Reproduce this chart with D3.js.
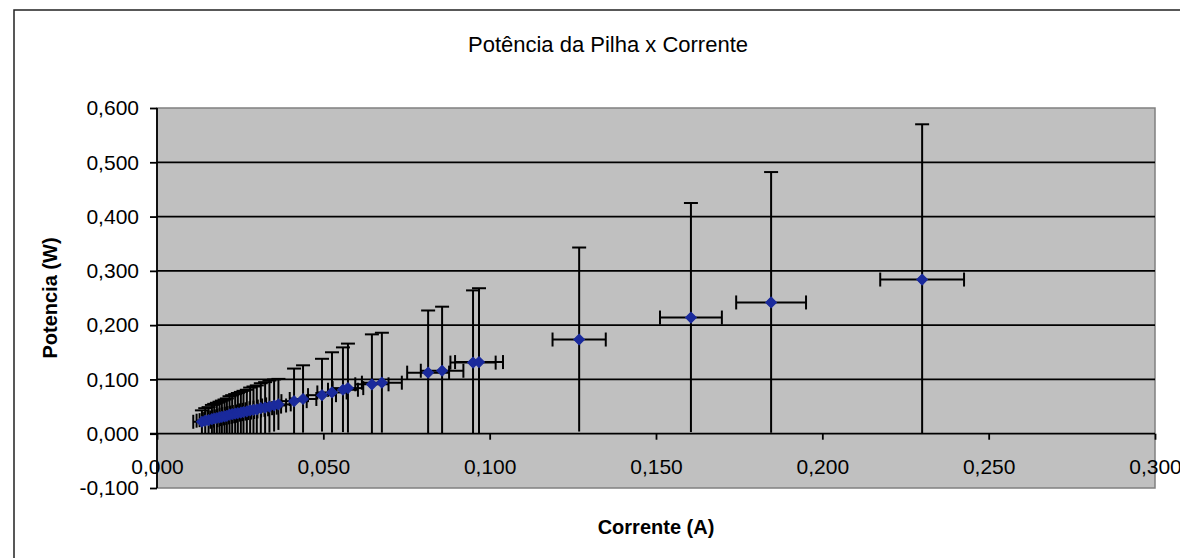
<!DOCTYPE html>
<html>
<head>
<meta charset="utf-8">
<script src="https://cdnjs.cloudflare.com/ajax/libs/d3/7.8.5/d3.min.js"></script>
<style>
  body { margin: 0; background: #fff; }
  text { font-family: "Liberation Sans", Arial, sans-serif; fill: #000; }
</style>
</head>
<body>
<svg></svg>
<script>
  // corrente (A), potencia (W), topo da barra de erro (W), erro da corrente (A)
  let corrente = [0.0135, 0.0145, 0.0155, 0.0165, 0.0172, 0.0180, 0.0188, 0.0195, 0.0203, 0.0210,
                  0.0218, 0.0226, 0.0235, 0.0243, 0.0252, 0.0260, 0.0270, 0.0280, 0.0290, 0.0300,
                  0.0312, 0.0325, 0.0338, 0.0352, 0.0365, 0.0412, 0.0439, 0.0496, 0.0526, 0.0559,
                  0.0574, 0.0646, 0.0676, 0.0815, 0.0857, 0.0950, 0.0968, 0.1269, 0.1605, 0.1846, 0.2300];
  let potencia = [0.022, 0.024, 0.025, 0.027, 0.028, 0.029, 0.030, 0.031, 0.032, 0.033,
                  0.035, 0.036, 0.037, 0.038, 0.039, 0.040, 0.041, 0.043, 0.044, 0.045,
                  0.047, 0.048, 0.050, 0.052, 0.054, 0.060, 0.064, 0.071, 0.076, 0.081,
                  0.084, 0.091, 0.094, 0.1125, 0.116, 0.131, 0.132, 0.1735, 0.214, 0.2418, 0.284];
  let potenciaMax = [0.043, 0.047, 0.049, 0.053, 0.055, 0.057, 0.059, 0.061, 0.063, 0.065,
                     0.069, 0.071, 0.073, 0.075, 0.077, 0.079, 0.081, 0.085, 0.087, 0.089,
                     0.093, 0.095, 0.098, 0.100, 0.101, 0.120, 0.126, 0.138, 0.150, 0.159,
                     0.166, 0.183, 0.186, 0.227, 0.234, 0.264, 0.268, 0.343, 0.425, 0.482, 0.570];
  let erroCorrente = [0.0026, 0.0026, 0.0027, 0.0027, 0.0028, 0.0028, 0.0028, 0.0029, 0.0029, 0.0029,
                      0.0030, 0.0030, 0.0031, 0.0031, 0.0031, 0.0032, 0.0032, 0.0033, 0.0033, 0.0034,
                      0.0034, 0.0035, 0.0035, 0.0036, 0.0037, 0.0038, 0.0040, 0.0042, 0.0044, 0.0045,
                      0.0046, 0.0050, 0.0060, 0.0063, 0.0064, 0.0068, 0.0072, 0.0080, 0.0093, 0.0105, 0.0126];

  let xTicks = [0, 0.05, 0.10, 0.15, 0.20, 0.25, 0.30];
  let yTicks = [-0.1, 0, 0.1, 0.2, 0.3, 0.4, 0.5, 0.6];

  let width = 1180, height = 558;
  let plot = {left: 157, right: 1155, top: 108, bottom: 488};
  let svg = d3.select("svg").attr("width", width).attr("height", height);

  let x = d3.scaleLinear().domain([0, 0.3]).range([plot.left, plot.right]);
  let y = d3.scaleLinear().domain([-0.1, 0.6]).range([plot.bottom, plot.top]);
  let fmt = v => d3.format(".3f")(v).replace(".", ",").replace("\u2212", "-");

  // a parte de baixo da barra de erro termina no eixo (zero)
  let data = corrente.map((c, i) => ({
    x: c, y: potencia[i], hi: potenciaMax[i],
    lo: Math.max(0, potencia[i] - (potenciaMax[i] - potencia[i])), ex: erroCorrente[i]
  }));

  // moldura externa
  svg.append("rect").attr("x", 14).attr("y", 10).attr("width", 1200).attr("height", 600)
    .attr("fill", "none").attr("stroke", "#222").attr("stroke-width", 1.5);

  svg.append("text").attr("x", 608).attr("y", 52).attr("text-anchor", "middle")
    .style("font-size", "22px").text("Potência da Pilha x Corrente");

  // área do gráfico
  svg.append("rect").attr("x", plot.left).attr("y", plot.top)
    .attr("width", plot.right - plot.left).attr("height", plot.bottom - plot.top)
    .attr("fill", "#c0c0c0").attr("stroke", "#808080").attr("stroke-width", 1.5);

  svg.append("g").selectAll("line")
    .data(yTicks.filter(v => v > 0 && v < 0.6))
    .enter().append("line")
    .attr("x1", plot.left).attr("x2", plot.right)
    .attr("y1", d => y(d)).attr("y2", d => y(d))
    .attr("stroke", "#000").attr("stroke-width", 1.8);

  let bars = svg.append("g").attr("stroke", "#000").attr("stroke-width", 2).attr("fill", "none");
  let cap = 7;

  data.forEach(d => {
    let g = bars.append("g");
    g.append("line").attr("x1", x(d.x)).attr("x2", x(d.x)).attr("y1", y(d.lo)).attr("y2", y(d.hi));
    g.append("line").attr("x1", x(d.x) - cap).attr("x2", x(d.x) + cap).attr("y1", y(d.hi)).attr("y2", y(d.hi));
    g.append("line").attr("x1", x(d.x - d.ex)).attr("x2", x(d.x + d.ex)).attr("y1", y(d.y)).attr("y2", y(d.y));
    g.append("line").attr("x1", x(d.x - d.ex)).attr("x2", x(d.x - d.ex)).attr("y1", y(d.y) - cap).attr("y2", y(d.y) + cap);
    g.append("line").attr("x1", x(d.x + d.ex)).attr("x2", x(d.x + d.ex)).attr("y1", y(d.y) - cap).attr("y2", y(d.y) + cap);
  });

  // eixo Y
  let yAxis = d3.axisLeft(y).tickValues(yTicks).tickSize(7).tickFormat(fmt);
  let gy = svg.append("g").attr("transform", "translate(" + plot.left + ",0)").call(yAxis);
  gy.select(".domain").attr("stroke", "#000").attr("stroke-width", 1.8).attr("d", "M0," + plot.top + "V" + plot.bottom);
  gy.selectAll(".tick line").attr("stroke", "#000").attr("stroke-width", 1.8);
  gy.selectAll(".tick text").attr("x", -18).style("font-size", "21px").style("font-family", "Liberation Sans, Arial, sans-serif");

  // eixo X cruzando em zero
  let xAxis = d3.axisBottom(x).tickValues(xTicks).tickSize(6).tickFormat(fmt);
  let gx = svg.append("g").attr("transform", "translate(0," + y(0) + ")").call(xAxis);
  gx.select(".domain").attr("stroke", "#000").attr("stroke-width", 1.8).attr("d", "M" + (plot.left - 7) + ",0H" + plot.right);
  gx.selectAll(".tick line").attr("stroke", "#000").attr("stroke-width", 1.8);
  gx.selectAll(".tick text").attr("y", 25).style("font-size", "21px").style("font-family", "Liberation Sans, Arial, sans-serif");

  // pontos
  svg.append("g").selectAll("path")
    .data(data).enter().append("path")
    .attr("d", d3.symbol().type(d3.symbolSquare).size(58))
    .attr("transform", d => "translate(" + x(d.x) + "," + y(d.y) + ") rotate(45)")
    .attr("fill", "#1a2a9c").attr("stroke", "#1a2a9c").attr("stroke-width", 1);

  svg.append("text").attr("x", 656).attr("y", 534).attr("text-anchor", "middle")
    .style("font-size", "20px").style("font-weight", "bold").text("Corrente (A)");

  svg.append("text").attr("transform", "translate(57,298) rotate(-90)").attr("text-anchor", "middle")
    .style("font-size", "20px").style("font-weight", "bold").text("Potencia (W)");
</script>
</body>
</html>
